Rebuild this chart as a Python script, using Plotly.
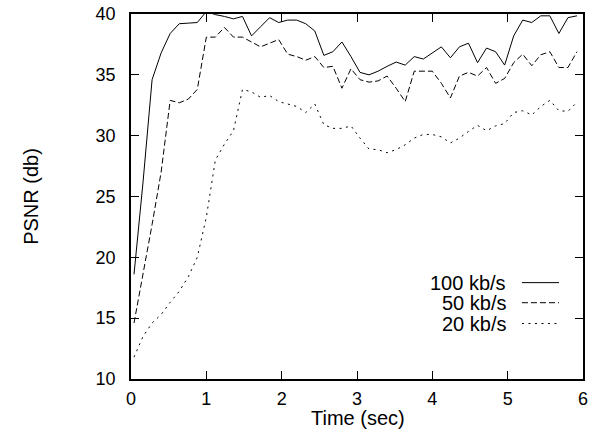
import plotly.graph_objects as go

time_sec = [0.04, 0.16, 0.28, 0.40, 0.52, 0.64, 0.76, 0.88, 1.00, 1.12,
            1.24, 1.36, 1.48, 1.60, 1.72, 1.84, 1.96, 2.08, 2.20, 2.32,
            2.44, 2.56, 2.68, 2.80, 2.92, 3.04, 3.16, 3.28, 3.40, 3.52,
            3.64, 3.76, 3.88, 4.00, 4.12, 4.24, 4.36, 4.48, 4.60, 4.72,
            4.84, 4.96, 5.08, 5.20, 5.32, 5.44, 5.56, 5.68, 5.80, 5.92]

psnr_100 = [18.6, 26.2, 34.6, 36.8, 38.4, 39.2, 39.25, 39.3, 40.2, 39.95,
            39.8, 39.6, 39.8, 38.2, 38.95, 39.7, 39.3, 39.5, 39.5, 39.2,
            38.6, 36.6, 36.9, 37.7, 36.5, 35.2, 35.0, 35.3, 35.7, 36.05,
            35.8, 36.5, 36.3, 36.8, 37.3, 36.4, 37.3, 37.6, 36.0, 37.2,
            36.9, 35.8, 38.2, 39.5, 39.3, 39.85, 39.85, 38.4, 39.7, 39.85]

psnr_50 = [14.6, 18.5, 22.7, 27.0, 32.9, 32.7, 33.0, 33.8, 38.1, 38.1,
           38.9, 38.1, 38.1, 37.7, 37.3, 37.6, 37.9, 36.7, 36.5, 36.2,
           36.5, 35.6, 35.7, 33.9, 35.5, 34.6, 34.4, 34.5, 34.9, 33.9,
           32.8, 35.3, 35.3, 35.3, 34.3, 33.1, 34.9, 35.2, 34.9, 35.6,
           34.3, 34.7, 36.0, 36.7, 35.75, 36.65, 36.9, 35.6, 35.6, 36.9]

psnr_20 = [11.8, 13.5, 14.6, 15.3, 16.3, 17.2, 18.4, 20.0, 23.3, 28.0,
           29.3, 30.4, 33.8, 33.6, 33.15, 33.3, 32.8, 32.6, 32.4, 31.9,
           32.6, 30.9, 30.6, 30.6, 30.8, 29.8, 28.9, 28.85, 28.6, 28.85,
           29.25, 29.8, 30.1, 30.1, 29.9, 29.4, 29.8, 30.35, 30.85, 30.4,
           30.8, 31.0, 31.9, 32.05, 31.7, 32.4, 32.9, 32.05, 32.0, 32.75]

series_names = ["100 kb/s", "50 kb/s", "20 kb/s"]
x_ticks = [0, 1, 2, 3, 4, 5, 6]
y_ticks = [10, 15, 20, 25, 30, 35, 40]

FONT = "Liberation Sans, Arial, Helvetica, sans-serif"
dashes = ["solid", "6px,3px", "2px,4.5px"]
series = [psnr_100, psnr_50, psnr_20]

fig = go.Figure()
for name, ys, d in zip(series_names, series, dashes):
    fig.add_trace(go.Scatter(x=time_sec, y=ys, mode="lines", name=name,
                             line=dict(color="black", width=1, dash=d),
                             showlegend=False))

# manual legend (text left of sample line, gnuplot style)
leg_y = [0.264, 0.209, 0.152]
for name, d, ly in zip(series_names, dashes, leg_y):
    fig.add_annotation(x=0.834, y=ly, xref="paper", yref="paper", text=name,
                       showarrow=False, xanchor="right", yanchor="middle",
                       font=dict(family=FONT, size=20, color="black"))
    fig.add_shape(type="line", xref="paper", yref="paper",
                  x0=0.865, x1=0.947, y0=ly, y1=ly,
                  line=dict(color="black", width=1, dash=d))

# x axis title
fig.add_annotation(x=0.503, y=-0.108, xref="paper", yref="paper", text="Time (sec)",
                   showarrow=False, xanchor="center", yanchor="middle",
                   font=dict(family=FONT, size=20, color="black"))

axis_common = dict(showgrid=False, zeroline=False, showline=True,
                   linecolor="black", linewidth=1.5, mirror="allticks",
                   ticks="inside", ticklen=8, tickwidth=1.2, tickcolor="black",
                   tickfont=dict(family=FONT, size=18, color="black"))

fig.update_xaxes(range=[0, 6], tickvals=x_ticks, ticktext=[str(v) for v in x_ticks],
                 ticklabelstandoff=3, **axis_common)
fig.update_yaxes(range=[10, 40], tickvals=y_ticks, ticktext=[str(v) for v in y_ticks],
                 ticklabelstandoff=10,
                 title=dict(text="PSNR (db)", standoff=52,
                            font=dict(family=FONT, size=20, color="black")),
                 **axis_common)

fig.update_layout(width=599, height=435,
                  margin=dict(l=131, r=16, t=14, b=56, autoexpand=False),
                  paper_bgcolor="white", plot_bgcolor="white",
                  font=dict(family=FONT, size=19, color="black"))

fig.write_html("out.html", config={"displayModeBar": False},
               post_script="document.body.style.margin='0';document.body.style.overflow='hidden';")
